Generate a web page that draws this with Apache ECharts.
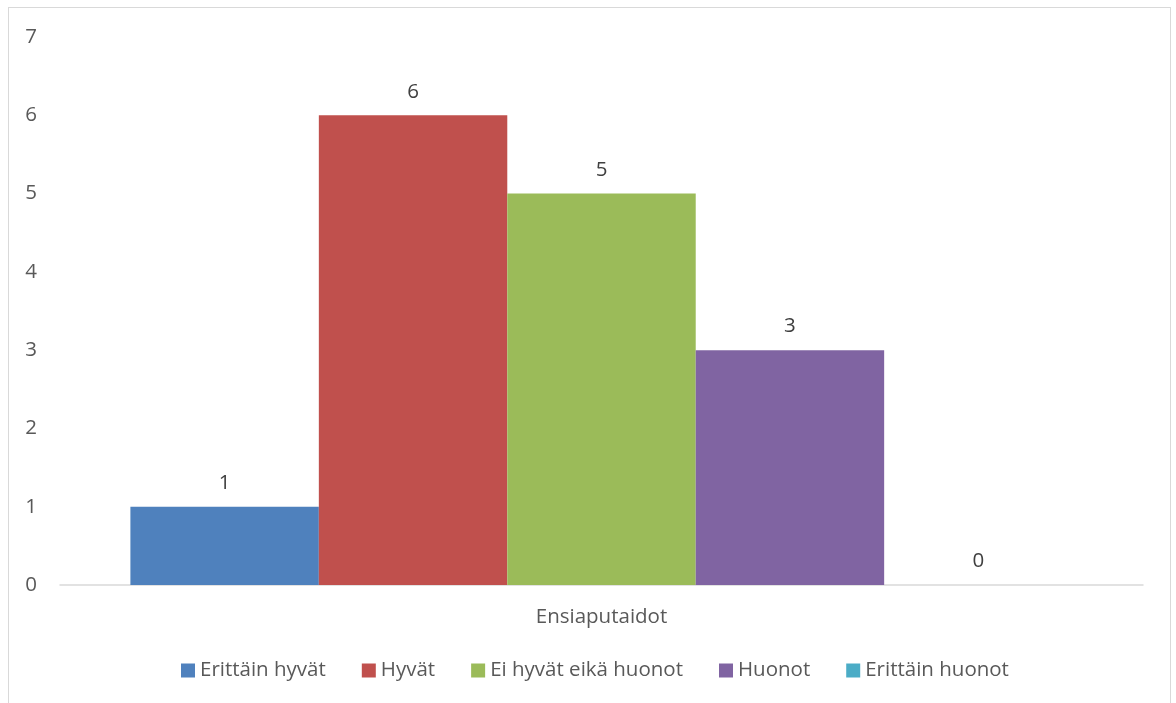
<!DOCTYPE html>
<html>
<head>
<meta charset="utf-8">
<script src="https://cdn.jsdelivr.net/npm/echarts@6/dist/echarts.min.js"></script>
<style>
  html, body { margin: 0; padding: 0; background: #fff; }
  #frame { position: absolute; left: 8px; top: 7px; width: 1163px; height: 720px;
           border: 1.5px solid #d9d9d9; box-sizing: border-box; }
  #chart { position: absolute; left: 0; top: 0; width: 1176px; height: 703px; }
</style>
</head>
<body>
<div id="frame"></div>
<div id="chart"></div>
<script>
const categories = ['Ensiaputaidot'];
const seriesNames = ['Erittäin hyvät', 'Hyvät', 'Ei hyvät eikä huonot', 'Huonot', 'Erittäin huonot'];
const seriesValues = [[1], [6], [5], [3], [0]];
const seriesColors = ['#4f81bd', '#c0504d', '#9bbb59', '#8064a2', '#4bacc6'];
const yTicks = { min: 0, max: 7, interval: 1 };

const FONT = '"Open Sans", sans-serif';
const FS = 20.5;

const chart = echarts.init(document.getElementById('chart'));
chart.setOption({
  animation: false,
  textStyle: { fontFamily: FONT },
  grid: { left: 60, right: 33, top: 37, bottom: 118 },
  legend: {
    data: seriesNames,
    top: 655,
    left: 176,
    icon: 'rect',
    itemWidth: 14,
    itemHeight: 14,
    itemGap: 36,
    textStyle: { color: '#595959', fontSize: FS, fontFamily: FONT }
  },
  xAxis: {
    type: 'category',
    data: categories,
    axisLine: { lineStyle: { color: '#d9d9d9', width: 1.5 } },
    axisTick: { show: false },
    axisLabel: { color: '#595959', fontSize: FS, margin: 22, fontFamily: FONT }
  },
  yAxis: {
    type: 'value',
    min: yTicks.min,
    max: yTicks.max,
    interval: yTicks.interval,
    axisLine: { show: false },
    axisTick: { show: false },
    splitLine: { show: false },
    axisLabel: { color: '#595959', fontSize: FS, margin: 23, fontFamily: FONT }
  },
  series: seriesNames.map((name, i) => ({
    name,
    type: 'bar',
    data: seriesValues[i],
    barGap: '0%',
    barCategoryGap: '13%',
    itemStyle: { color: seriesColors[i] },
    label: {
      show: true,
      position: 'top',
      distance: 13,
      color: '#404040',
      fontSize: FS,
      fontFamily: FONT
    }
  }))
});
</script>
</body>
</html>
